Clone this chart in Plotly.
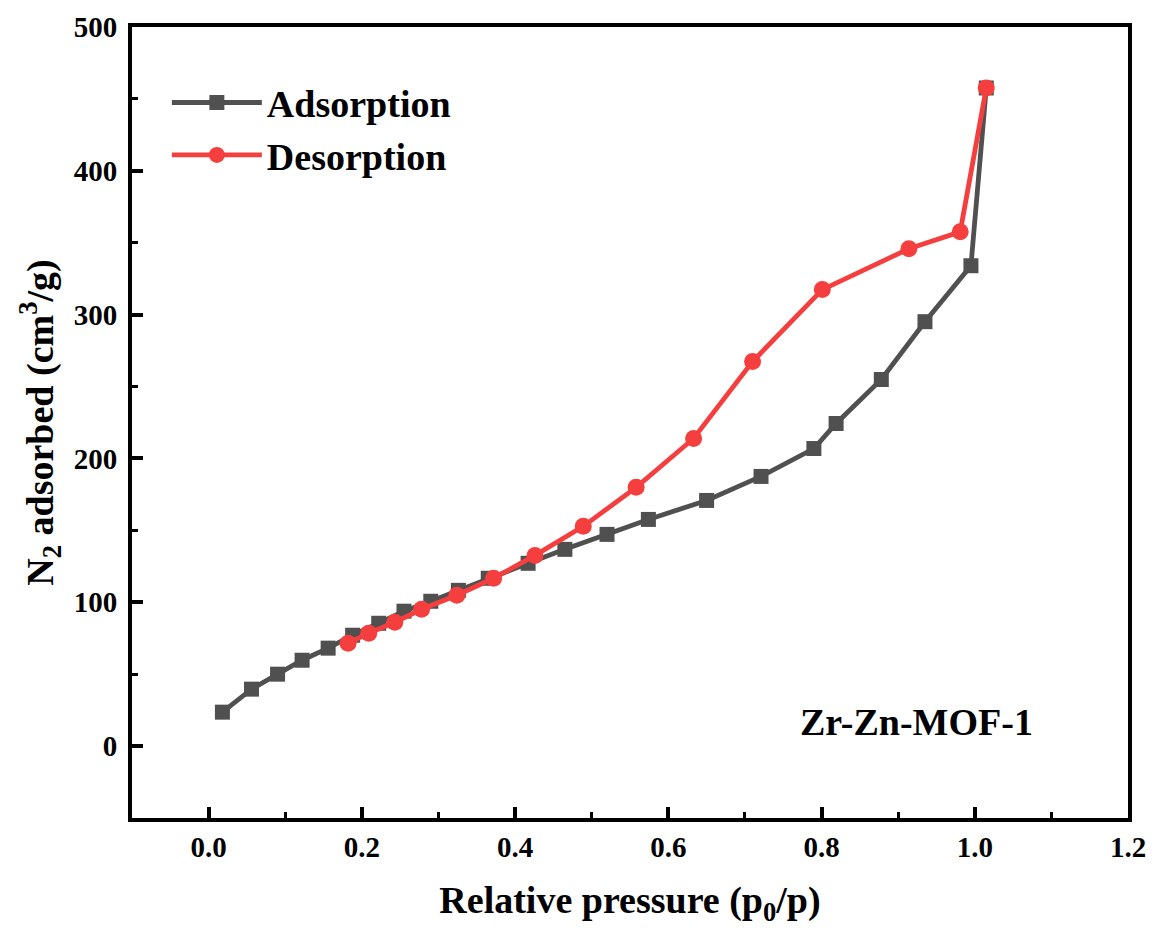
import plotly.graph_objects as go

# N2 sorption isotherm of Zr-Zn-MOF-1
ads_p = [0.018, 0.056, 0.090, 0.122, 0.156, 0.188, 0.222, 0.255, 0.290, 0.326,
         0.365, 0.417, 0.465, 0.520, 0.574, 0.650, 0.721, 0.790, 0.819, 0.878,
         0.935, 0.995, 1.015]
ads_v = [23.6, 39.6, 50.0, 59.7, 68.1, 77.1, 85.4, 93.8, 100.7, 108.3,
         116.7, 127.1, 136.8, 147.2, 157.6, 170.8, 187.5, 206.9, 224.3, 254.9,
         295.1, 334.0, 457.6]

des_p = [1.015, 0.981, 0.914, 0.801, 0.710, 0.633, 0.558, 0.489, 0.426, 0.372,
         0.324, 0.278, 0.243, 0.209, 0.182]
des_v = [457.6, 357.6, 345.8, 317.4, 267.4, 213.9, 179.9, 152.8, 132.6, 116.7,
         104.9, 95.1, 86.1, 78.5, 71.5]

x_ticks = [0.0, 0.2, 0.4, 0.6, 0.8, 1.0, 1.2]
y_ticks = [0, 100, 200, 300, 400, 500]

GRAY = "#505050"
RED = "#f53f3f"
FONT = "Liberation Serif, Times New Roman, serif"

fig = go.Figure()
fig.add_trace(go.Scatter(
    x=ads_p, y=ads_v, name="Adsorption", mode="lines+markers",
    line=dict(color=GRAY, width=4.8),
    marker=dict(symbol="square", size=15, color=GRAY),
))
fig.add_trace(go.Scatter(
    x=des_p, y=des_v, name="Desorption", mode="lines+markers",
    line=dict(color=RED, width=4.8),
    marker=dict(symbol="circle", size=17, color=RED),
))

tick_font = dict(family=FONT, size=29, color="black", weight="bold")
title_font = dict(family=FONT, size=38, color="black", weight="bold")

axis_common = dict(
    showgrid=False, zeroline=False,
    showline=True, linecolor="black", linewidth=4, mirror=True,
    ticks="inside", ticklen=11, tickwidth=4, tickcolor="black",
    tickfont=tick_font,
)

fig.update_xaxes(
    range=[-0.1, 1.2], tickvals=x_ticks, tickformat=".1f",
    minor=dict(dtick=0.1, ticks="inside", ticklen=6, tickwidth=3, tickcolor="black"),
    title=dict(text="Relative pressure (p<sub>0</sub>/p)", font=title_font, standoff=26),
    **axis_common,
)
fig.update_yaxes(
    range=[-50, 500], tickvals=y_ticks, ticklabelstandoff=5,
    minor=dict(dtick=50, ticks="inside", ticklen=6, tickwidth=3, tickcolor="black"),
    title=dict(text="N<sub>2</sub> adsorbed (cm<sup>3</sup>/g)", font=title_font, standoff=9),
    **axis_common,
)

fig.add_annotation(
    x=0.924, y=17, xref="x", yref="y", text="Zr-Zn-MOF-1",
    showarrow=False, font=title_font,
)

fig.update_layout(
    width=1153, height=931,
    margin=dict(l=132, r=25, t=27, b=113, autoexpand=False),
    paper_bgcolor="white", plot_bgcolor="white",
    font=dict(family=FONT, color="black"),
    legend=dict(
        x=0.035, y=0.944, xanchor="left", yanchor="top",
        font=title_font,
        bgcolor="rgba(0,0,0,0)", itemwidth=90, tracegroupgap=0,
    ),
)

fig.write_html("out.html")
